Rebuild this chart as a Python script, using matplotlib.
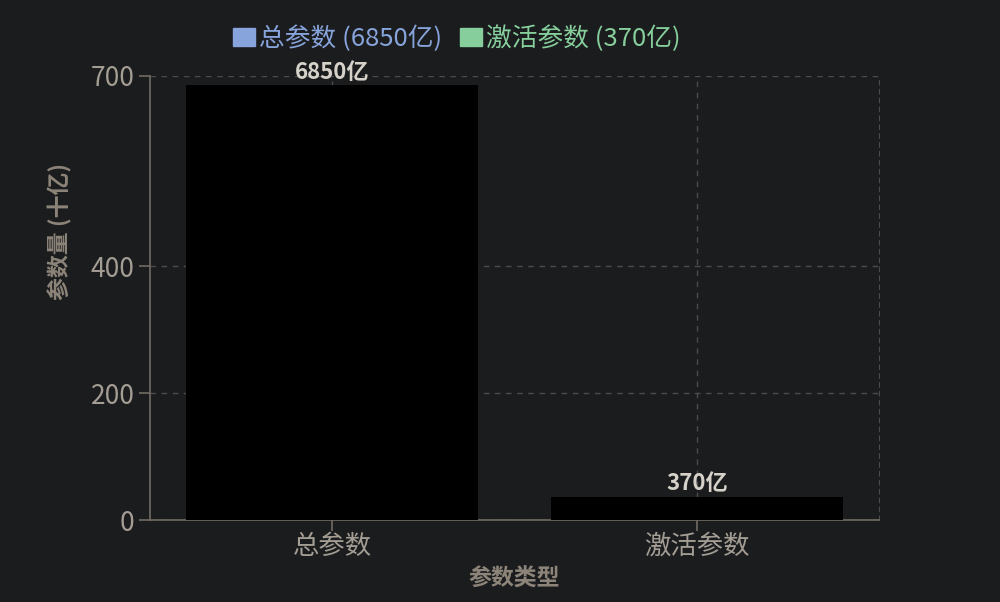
import matplotlib.pyplot as plt
import matplotlib.patches as mpatches

plt.rcParams['font.family'] = ['Noto Sans CJK SC', 'DejaVu Sans']

# ── data ──────────────────────────────────────────────
categories = ["总参数", "激活参数"]
values = [685, 37]                     # 十亿
bar_labels = ["6850亿", "370亿"]
legend_labels = ["总参数 (6850亿)", "激活参数 (370亿)"]
legend_colors = ["#87a4dc", "#86cf9c"]
y_ticks = [0, 200, 400, 700]

BG = "#1b1c1e"
TICK_C = "#a39d94"
LABEL_C = "#8c8479"
SPINE_C = "#716b63"
GRID_C = "#4a4b4d"

fig = plt.figure(figsize=(10, 6.02), dpi=100, facecolor=BG)
ax = fig.add_axes([0.15, 0.1362, 0.729, 0.7376], facecolor=BG)

x = range(len(categories))
ax.bar(x, values, width=0.8, color="black", zorder=3)

for xi, v, lab in zip(x, values, bar_labels):
    ax.annotate(lab, (xi, v), xytext=(0, 1), textcoords="offset points",
                ha="center", va="bottom", fontsize=16, fontweight="bold",
                color="#d6d2ca", zorder=4)

ax.set_xlim(-0.5, 1.5)
ax.set_ylim(0, 700)
ax.set_xticks(list(x))
ax.set_xticklabels(categories)
ax.set_yticks(y_ticks)

ax.tick_params(axis="both", colors=SPINE_C, labelcolor=TICK_C,
               labelsize=19, length=8, width=1.2)
ax.tick_params(axis="y", pad=3)
ax.tick_params(axis="x", pad=1)

ax.grid(True, color=GRID_C, linestyle=(0, (4, 4)), linewidth=1, zorder=0)

for side in ["left", "bottom"]:
    ax.spines[side].set_color(SPINE_C)
    ax.spines[side].set_linewidth(1.2)
ax.spines["top"].set_visible(False)
ax.spines["right"].set_color(GRID_C)
ax.spines["right"].set_linestyle((0, (4, 4)))

ax.set_xlabel("参数类型", fontsize=16.5, fontweight="bold", color=LABEL_C, labelpad=6)
ax.set_ylabel("参数量 (十亿)", fontsize=16.5, fontweight="bold", color=LABEL_C)
ax.yaxis.set_label_coords(-0.106, 0.649)

handles = [mpatches.Patch(color=c, label=l) for c, l in zip(legend_colors, legend_labels)]
leg = fig.legend(handles=handles, loc="center", bbox_to_anchor=(0.457, 0.935),
                 ncol=2, frameon=False, fontsize=18.5, handlelength=0.85,
                 handleheight=0.7, handletextpad=0.15, columnspacing=0.7)
for t, c in zip(leg.get_texts(), legend_colors):
    t.set_color(c)

fig.savefig("out.png", dpi=100, facecolor=BG)
